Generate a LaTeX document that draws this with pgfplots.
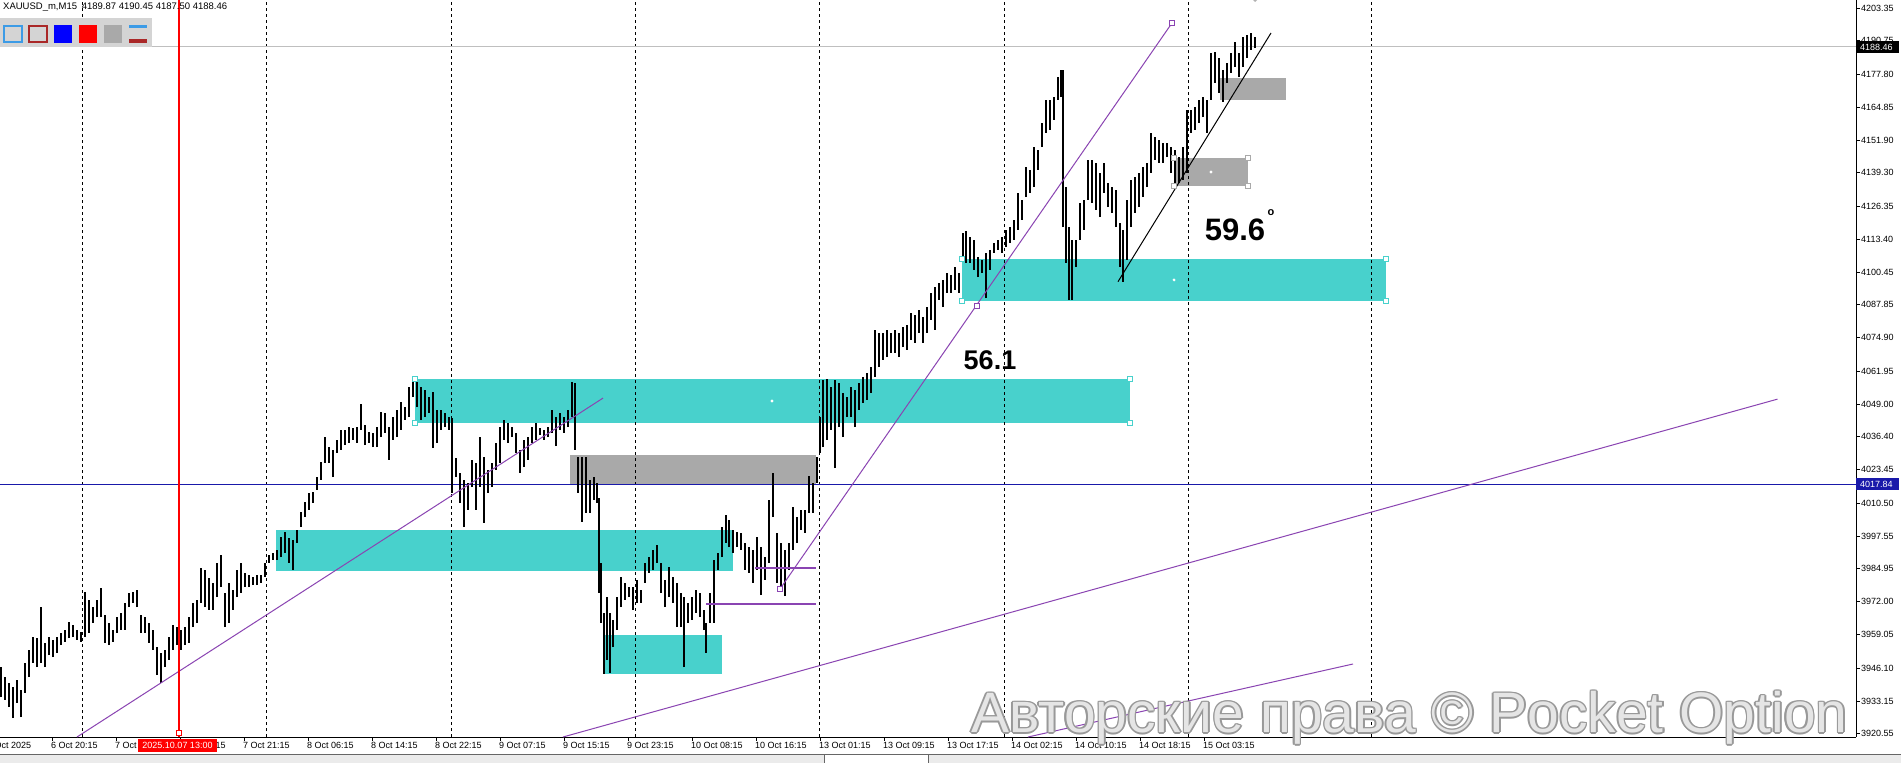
\documentclass[border=0pt]{standalone}
\usepackage{fontspec}
\setmainfont{Liberation Sans}
\usepackage{pgfplots}
\usepackage{pgfplotstable}
\pgfplotsset{compat=1.18}
\definecolor{turq}{RGB}{72,209,204}
\definecolor{zonegray}{RGB}{169,169,169}
\definecolor{trendpurple}{RGB}{138,68,178}
\definecolor{navyline}{RGB}{25,25,170}
\definecolor{tbgray}{RGB}{212,212,212}
\definecolor{btnblue}{RGB}{60,155,230}
\definecolor{btnred}{RGB}{170,40,40}
\tikzset{
  hp/.style={draw=trendpurple, fill=white, minimum size=5pt, inner sep=0pt, line width=0.8pt},
  ht/.style={draw=turq, fill=white, minimum size=5pt, inner sep=0pt, line width=0.8pt},
  hg/.style={draw=zonegray, fill=white, minimum size=5pt, inner sep=0pt, line width=0.8pt},
}

\pgfplotstableread{
x lo hi
1 3934.8 3946.5
5 3933.7 3942.6
9 3930.9 3940.3
13 3926.6 3938.7
17 3932.5 3941.5
21 3927.0 3937.6
25 3936.4 3948.1
29 3942.6 3953.2
33 3948.1 3958.2
37 3946.5 3957.8
41 3948.1 3969.9
45 3946.5 3955.9
49 3951.2 3958.2
53 3950.4 3957.1
57 3952.0 3958.2
61 3955.1 3959.8
65 3956.3 3961.0
69 3957.8 3964.1
73 3958.2 3962.9
77 3957.1 3961.0
81 3956.3 3960.2
85 3958.2 3975.8
89 3959.8 3972.7
93 3963.7 3969.9
97 3966.0 3972.7
101 3966.0 3977.3
105 3955.9 3966.8
109 3955.1 3963.7
113 3956.3 3961.0
117 3959.8 3966.0
121 3961.0 3967.6
125 3961.0 3971.5
129 3969.9 3975.4
133 3971.5 3975.8
137 3969.9 3976.6
141 3959.8 3966.8
145 3959.8 3966.0
149 3955.9 3963.7
153 3953.2 3961.0
157 3943.4 3954.3
161 3940.3 3952.0
165 3946.5 3953.2
169 3949.3 3958.2
173 3953.2 3962.9
177 3955.1 3962.1
181 3953.2 3961.0
185 3955.1 3962.1
189 3955.9 3966.0
193 3962.1 3971.5
197 3963.7 3972.7
201 3971.5 3985.1
205 3969.9 3984.4
209 3968.8 3981.2
213 3968.8 3979.3
217 3973.8 3987.1
221 3977.7 3990.2
225 3962.1 3975.4
229 3963.7 3979.3
233 3968.8 3976.6
237 3973.8 3984.4
241 3975.4 3987.1
245 3977.7 3983.2
249 3977.7 3982.4
253 3978.5 3981.6
257 3978.5 3982.4
261 3979.3 3982.4
265 3981.6 3987.1
269 3987.1 3990.2
273 3988.3 3991.0
277 3988.3 3992.2
281 3989.4 3997.2
285 3991.0 3999.2
289 3987.1 3996.8
293 3984.4 3996.1
297 3994.9 4000.0
301 4001.1 4007.0
305 4005.0 4010.9
309 4007.8 4014.4
313 4010.5 4014.8
317 4015.6 4020.6
321 4019.5 4026.5
325 4026.1 4036.2
329 4026.1 4032.3
333 4020.6 4031.2
337 4030.0 4035.1
341 4031.2 4039.0
345 4033.1 4039.0
349 4033.9 4040.1
353 4035.1 4039.7
357 4033.9 4040.1
361 4039.0 4049.1
365 4033.1 4040.9
369 4033.9 4038.2
373 4032.3 4037.8
377 4032.3 4040.1
381 4036.2 4046.0
385 4037.8 4045.6
389 4027.3 4040.1
393 4035.1 4044.0
397 4036.2 4046.8
401 4039.0 4049.9
405 4042.9 4047.9
409 4044.0 4055.7
413 4051.8 4059.2
417 4047.9 4058.5
421 4042.9 4055.7
425 4044.0 4054.6
429 4045.6 4051.8
433 4031.9 4053.8
437 4033.9 4046.8
441 4039.0 4046.8
445 4040.1 4045.6
449 4039.0 4044.0
452 4014.4 4043.6
456 4020.6 4028.0
460 4010.5 4022.2
464 4001.1 4019.5
468 4007.8 4018.3
472 4016.7 4027.3
476 4007.8 4026.1
480 4016.7 4036.2
484 4002.7 4028.4
488 4014.4 4023.4
492 4016.7 4026.1
496 4023.4 4033.9
500 4026.1 4040.1
504 4035.1 4042.9
508 4033.9 4041.7
512 4036.2 4040.1
516 4030.0 4037.8
520 4022.2 4031.2
524 4024.5 4035.1
528 4027.3 4036.2
532 4033.9 4040.1
536 4035.1 4041.7
540 4037.0 4039.7
544 4035.1 4039.0
548 4036.2 4040.1
552 4037.8 4046.8
556 4032.7 4044.0
560 4039.0 4045.6
564 4037.8 4044.0
568 4040.1 4046.8
572 4044.0 4057.7
575 4031.2 4057.3
578 4014.4 4028.4
582 4003.1 4028.4
586 4006.6 4028.4
590 4006.6 4019.5
594 4011.7 4020.6
597 4010.5 4018.3
599 3975.4 4012.4
601 3963.7 3987.1
604 3943.8 3967.6
607 3949.3 3973.8
610 3944.2 3967.6
613 3954.3 3964.9
617 3961.0 3973.8
621 3969.9 3981.6
625 3972.7 3979.3
629 3973.8 3977.7
633 3968.8 3977.7
637 3971.5 3980.5
641 3971.5 3976.6
645 3979.3 3987.1
649 3983.2 3989.4
653 3984.4 3992.2
657 3987.1 3994.1
661 3975.4 3987.1
665 3969.9 3980.5
669 3973.8 3985.5
673 3971.5 3981.6
677 3962.1 3979.3
681 3962.1 3975.4
684 3946.5 3973.8
688 3963.7 3971.5
692 3964.9 3973.8
696 3967.6 3976.6
700 3966.0 3975.4
704 3961.0 3968.8
706 3952.0 3963.7
710 3963.7 3975.4
714 3963.7 3988.3
718 3984.4 3991.0
722 3989.4 4001.1
726 3994.9 4005.8
729 3993.3 4003.9
733 3991.0 4000.0
737 3993.3 3999.2
741 3992.2 3998.8
745 3984.4 3994.9
749 3983.2 3993.3
753 3979.3 3992.2
757 3984.4 3997.2
761 3974.6 3993.3
765 3980.5 3989.4
769 3987.1 4011.7
773 4005.0 4022.2
777 3979.3 3998.8
781 3976.6 3994.9
785 3974.2 3992.2
789 3984.4 3994.9
793 3992.2 4008.9
797 3994.9 4005.0
801 4000.0 4007.8
805 3998.8 4007.8
809 4006.6 4021.0
813 4006.6 4018.3
817 4018.3 4028.4
820 4030.0 4044.0
823 4032.3 4058.5
827 4035.1 4058.9
831 4039.0 4055.7
835 4024.1 4058.5
839 4040.1 4057.3
843 4036.2 4053.4
847 4044.0 4051.8
851 4044.0 4055.7
855 4040.1 4054.6
859 4046.8 4057.3
863 4049.5 4059.6
867 4050.7 4061.2
871 4053.4 4063.5
875 4059.6 4078.0
879 4063.5 4076.8
883 4066.3 4076.8
887 4067.4 4078.0
891 4069.0 4076.8
895 4069.0 4078.0
899 4067.4 4076.8
903 4071.3 4079.1
907 4070.2 4079.9
911 4074.1 4084.6
915 4072.9 4083.8
919 4076.8 4085.8
923 4072.9 4083.0
927 4076.8 4086.9
931 4081.9 4092.4
935 4078.0 4094.7
939 4089.7 4096.3
943 4086.9 4097.5
947 4092.4 4100.2
951 4092.4 4099.4
955 4093.6 4102.5
959 4092.4 4100.2
963 4106.4 4115.8
966 4104.1 4116.6
970 4104.1 4114.2
974 4101.4 4113.1
978 4098.6 4106.4
982 4100.2 4105.3
986 4090.4 4108.0
990 4101.4 4109.2
994 4108.0 4111.9
998 4109.2 4113.1
1002 4108.0 4114.2
1006 4110.3 4117.0
1010 4111.9 4118.1
1014 4113.1 4120.9
1018 4117.0 4131.4
1022 4120.9 4128.7
1026 4129.8 4141.5
1030 4131.4 4140.4
1034 4133.7 4149.3
1038 4140.4 4148.2
1042 4149.3 4158.7
1046 4154.8 4167.7
1050 4156.0 4167.7
1054 4159.9 4168.8
1058 4167.7 4176.6
1061 4168.8 4179.4
1063 4118.1 4179.4
1066 4104.1 4133.7
1069 4089.7 4118.1
1072 4089.7 4113.1
1076 4102.5 4113.1
1080 4113.1 4127.5
1084 4117.0 4128.7
1088 4128.7 4144.3
1092 4127.5 4144.3
1096 4124.8 4143.1
1100 4122.0 4139.2
1104 4131.4 4143.1
1108 4125.9 4135.3
1112 4123.6 4133.7
1116 4118.1 4132.6
1120 4102.5 4119.7
1123 4096.7 4117.0
1127 4105.3 4128.7
1131 4118.1 4136.5
1135 4123.6 4137.6
1139 4125.9 4139.2
1143 4129.8 4141.5
1147 4133.7 4143.1
1151 4139.2 4154.8
1155 4144.3 4153.2
1159 4143.1 4152.1
1163 4143.1 4150.9
1167 4145.4 4150.9
1171 4139.2 4149.3
1175 4133.7 4148.2
1179 4135.3 4145.4
1183 4136.5 4149.3
1187 4139.2 4163.8
1191 4154.8 4163.8
1195 4156.0 4164.9
1199 4158.7 4167.7
1203 4161.0 4168.8
1207 4154.8 4167.7
1211 4167.7 4186.0
1215 4174.3 4186.4
1219 4170.4 4184.0
1223 4166.9 4179.4
1227 4174.3 4182.1
1231 4178.2 4186.0
1235 4180.5 4190.3
1239 4176.6 4186.0
1243 4180.5 4192.2
1247 4184.0 4193.0
1251 4187.2 4193.8
1255 4187.9 4192.2
}\bars

\begin{document}
\begin{tikzpicture}
\useasboundingbox (0pt,-26pt) rectangle (1901pt,737pt);
\fill[white] (0pt,-26pt) rectangle (1901pt,737pt);
\begin{axis}[
  at={(0pt,0pt)}, anchor=south west,
  width=1856pt, height=737pt, scale only axis,
  xmin=0, xmax=1856, ymin=3919.23, ymax=4206.66,
  axis x line*=bottom, axis y line*=right,
  axis line style={black, line width=1pt},
  xtick={52,116,...,1204},
  xticklabels={6 Oct 20:15,7 Oct 05:15,7 Oct 13:15,7 Oct 21:15,8 Oct 06:15,8 Oct 14:15,8 Oct 22:15,9 Oct 07:15,9 Oct 15:15,9 Oct 23:15,10 Oct 08:15,10 Oct 16:15,13 Oct 01:15,13 Oct 09:15,13 Oct 17:15,14 Oct 02:15,14 Oct 10:15,14 Oct 18:15,15 Oct 03:15},
  ytick={4203.35,4190.75,4177.80,4164.85,4151.90,4139.30,4126.35,4113.40,4100.45,4087.85,4074.90,4061.95,4049.00,4036.40,4023.45,4010.50,3997.55,3984.95,3972.00,3959.05,3946.10,3933.15,3920.55},
  yticklabels={4203.35,4190.75,4177.80,4164.85,4151.90,4139.30,4126.35,4113.40,4100.45,4087.85,4074.90,4061.95,4049.00,4036.40,4023.45,4010.50,3997.55,3984.95,3972.00,3959.05,3946.10,3933.15,3920.55},
  tick align=outside, major tick length=4pt,
  tick style={black, line width=0.8pt},
  ticklabel style={font=\fontsize{9}{10}\selectfont},
  xticklabel style={anchor=north west, inner sep=0pt, xshift=-1pt, yshift=-1pt},
  yticklabel style={anchor=west, inner sep=0pt, xshift=1pt},
  /pgf/number format/assume math mode=true,
]
% zones
\fill[turq] (axis cs:415,4041.7) rectangle (axis cs:1130,4058.85);
\fill[turq] (axis cs:276,3983.96) rectangle (axis cs:733,3999.96);
\fill[turq] (axis cs:604,3943.8) rectangle (axis cs:722,3959.0);
\fill[zonegray] (axis cs:570,4017.9) rectangle (axis cs:816,4029.2);
\fill[turq] (axis cs:962,4089.4) rectangle (axis cs:1386,4105.65);
\fill[zonegray] (axis cs:1174,4134.2) rectangle (axis cs:1248,4145.0);
\fill[zonegray] (axis cs:1220,4167.8) rectangle (axis cs:1286,4176.2);
% day separators
\pgfplotsinvokeforeach{82,266,451,635,819,1004,1188,1371}{
  \draw[black, line width=1pt, dash pattern=on 3pt off 3pt] (axis cs:#1,3919.23) -- (axis cs:#1,4206.66);
}
% horizontal price lines
\draw[black!25, line width=1pt] (axis cs:0,4188.46) -- (axis cs:1856,4188.46);
\draw[navyline, line width=1.2pt] (axis cs:0,4017.84) -- (axis cs:1856,4017.84);
% price bars
\addplot[draw=none, mark=none,
  error bars/.cd, y dir=plus, y explicit, error mark=none,
  error bar style={draw=black, line width=1.6pt}]
  table[x=x, y=lo, y error expr=\thisrow{hi}-\thisrow{lo}] {\bars};
% trend lines
\draw[trendpurple, line width=1pt] (axis cs:77,3919.23) -- (axis cs:603,4051.4);
\draw[trendpurple, line width=1pt] (axis cs:780,3976.95) -- (axis cs:1172,4197.7);
\draw[trendpurple, line width=1pt] (axis cs:563,3919.23) -- (axis cs:1777.5,4051.0);
\draw[trendpurple, line width=1pt] (axis cs:1028,3919.23) -- (axis cs:1353,3947.7);
\draw[trendpurple, line width=1.8pt] (axis cs:755,3985.0) -- (axis cs:816,3985.0);
\draw[trendpurple, line width=1.8pt] (axis cs:706,3971.1) -- (axis cs:816,3971.1);
\draw[black, line width=1pt] (axis cs:1118,4096.8) -- (axis cs:1271,4193.8);
% handles
\node[hp] at (axis cs:780,3976.95) {};
\node[hp] at (axis cs:977,4087.3) {};
\node[hp] at (axis cs:1172,4197.7) {};
\node[ht] at (axis cs:415,4058.85) {};
\node[ht] at (axis cs:415,4041.7) {};
\node[ht] at (axis cs:1130,4058.85) {};
\node[ht] at (axis cs:1130,4041.7) {};
\node[ht] at (axis cs:962,4105.65) {};
\node[ht] at (axis cs:962,4089.4) {};
\node[ht] at (axis cs:1386,4105.65) {};
\node[ht] at (axis cs:1386,4089.4) {};
\node[hg] at (axis cs:1174,4145.0) {};
\node[hg] at (axis cs:1174,4134.2) {};
\node[hg] at (axis cs:1248,4145.0) {};
\node[hg] at (axis cs:1248,4134.2) {};
\fill[white] (axis cs:772,4050.3) circle (1.6pt);
\fill[white] (axis cs:1174,4097.5) circle (1.6pt);
\fill[white] (axis cs:1211,4139.6) circle (1.6pt);
% red time line
\draw[red, line width=1.2pt] (axis cs:179,3919.23) -- (axis cs:179,4206.66);
% angle labels
\node[font=\fontsize{27}{27}\selectfont\bfseries] at (axis cs:990,4066.3) {56.1};
\node[font=\fontsize{31}{31}\selectfont\bfseries] at (axis cs:1235,4116.95) {59.6};
\node[font=\fontsize{11}{11}\selectfont\bfseries] at (axis cs:1271,4123.6) {o};
\end{axis}

\begin{scope}[shift={(0pt,737pt)}, x=1pt, y=-1pt]
  % header text
  \node[anchor=west, inner sep=0pt, font=\fontsize{9.5}{10}\selectfont] at (3,7) {XAUUSD\_m,M15\enspace 4189.87 4190.45 4187.50 4188.46};
  % toolbar
  \fill[tbgray] (0,18) rectangle (152,47);
  \draw[btnblue, line width=2pt] (4,26) rectangle (22,42);
  \draw[btnred, line width=2pt] (29,26) rectangle (47,42);
  \fill[blue] (54,25) rectangle (72,43);
  \fill[red] (79,25) rectangle (97,43);
  \fill[zonegray] (104,25) rectangle (122,43);
  \fill[btnblue] (129,25) rectangle (147,28.5);
  \fill[btnred] (129,39.5) rectangle (147,43);
  % diamond marker at top
  \fill[black!30] (1251,-2) -- (1255,2) -- (1259,-2) -- cycle;
  % right price labels
  \fill[black] (1856,41) rectangle (1899,53);
  \node[anchor=west, inner sep=0pt, text=white, font=\fontsize{9}{10}\selectfont] at (1860,47) {4188.46};
  \fill[navyline] (1856,478.5) rectangle (1899,490);
  \node[anchor=west, inner sep=0pt, text=white, font=\fontsize{9}{10}\selectfont] at (1860,484.2) {4017.84};
  % cut first date label
  \node[anchor=west, inner sep=0pt, font=\fontsize{9}{10}\selectfont] at (-13,745.5) {6 Oct 2025};
  % red time label
  \fill[red] (138,739) rectangle (217,752);
  \node[inner sep=0pt, text=white, font=\fontsize{9}{10}\selectfont] at (177.5,745.5) {2025.10.07 13:00};
  \draw[red, line width=1pt, fill=white] (176.5,730) rectangle (181.5,735);
  % bottom tab strip
  \fill[black!8] (0,754) rectangle (1901,763);
  \draw[black!60, line width=1pt] (0,754) -- (1901,754);
  \fill[white] (824,755) rectangle (928,763);
  \draw[black!60, line width=1pt] (824,754) -- (824,763) (928,754) -- (928,763);
  % watermark
  \foreach \dx/\dy in {-1.6/0,1.6/0,0/-1.6,0/1.6,-1.1/-1.1,1.1/1.1,-1.1/1.1,1.1/-1.1}{
    \node[text=black!40, inner sep=0pt, font=\fontsize{57}{57}\selectfont] at (1409.5+\dx,718+\dy) {Авторские права © Pocket Option};
  }
  \node[text=white, text opacity=0.75, inner sep=0pt, font=\fontsize{57}{57}\selectfont] at (1409.5,718) {Авторские права © Pocket Option};
\end{scope}
\end{tikzpicture}
\end{document}
